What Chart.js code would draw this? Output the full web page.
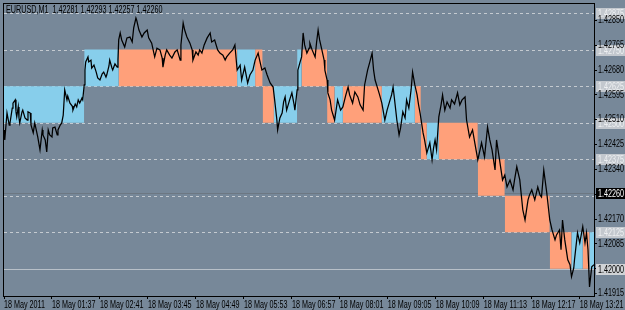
<!DOCTYPE html>
<html><head><meta charset="utf-8">
<script src="https://cdn.jsdelivr.net/npm/chart.js@4/dist/chart.umd.min.js"></script>
<style>
html,body{margin:0;padding:0;background:#778899;overflow:hidden;}
#wrap{position:relative;width:625px;height:310px;box-sizing:border-box;}
canvas{display:block;}
</style>
</head><body><div id="wrap"><canvas id="c" width="625" height="310"></canvas></div>
<script>
// minutes since 00:33 (first bar) on 18 May 2011, EURUSD M1 close
const minutes = [0,1,4,7,8,11,12,15,16,17,19,20,21,24,25,28,31,32,35,36,39,41,43,45,48,51,52,55,57,59,61,64,65,68,71,72,75,77,79,81,84,85,88,91,92,95,97,99,101,104,105,107,108,109,112,113,116,117,120,123,125,128,131,133,136,137,140,141,144,145,148,151,152,153,155,157,161,164,168,171,173,176,177,180,184,187,191,193,197,201,204,208,211,212,215,217,221,224,228,231,235,236,239,241,244,248,251,252,256,259,261,264,267,271,275,277,281,285,288,292,295,297,301,305,308,311,315,317,321,325,328,332,335,339,341,344,348,351,355,359,361,364,365,368,371,373,375,377,381,384,387,388,391,392,395,397,399,401,404,407,408,411,415,417,419,421,424,427,428,431,432,435,437,441,444,445,449,452,456,459,461,465,468,472,475,479,481,485,488,491,493,495,499,501,504,508,511,515,517,519,521,524,527,529,532,535,537,540,543,545,548,551,553,555,559,561,564,568,571,573,575,577,580,583,585,588,591,595,597,601,605,608,611,615,617,621,625,628,632,635,637,641,645,648,651,655,657,661,665,668,671,675,679,681,684,688,692,695,699,701,704,708,712,715,717,720,724,728,731,735,737,741,743,745,748,752,755,757,760,761,765,768,772,775,777,779,781,784,787];
const prices = [1.42475,1.42441,1.42533,1.42492,1.42499,1.42550,1.42567,1.42578,1.42537,1.42520,1.42554,1.42516,1.42499,1.42537,1.42543,1.42516,1.42509,1.42537,1.42533,1.42492,1.42465,1.42499,1.42475,1.42451,1.42407,1.42475,1.42458,1.42441,1.42400,1.42475,1.42458,1.42451,1.42482,1.42485,1.42458,1.42475,1.42492,1.42499,1.42526,1.42612,1.42578,1.42591,1.42567,1.42557,1.42543,1.42564,1.42554,1.42578,1.42567,1.42584,1.42578,1.42629,1.42680,1.42708,1.42725,1.42708,1.42714,1.42687,1.42697,1.42673,1.42653,1.42646,1.42667,1.42673,1.42656,1.42663,1.42694,1.42714,1.42687,1.42680,1.42701,1.42690,1.42714,1.42783,1.42807,1.42783,1.42759,1.42790,1.42793,1.42776,1.42824,1.42858,1.42851,1.42817,1.42793,1.42807,1.42817,1.42790,1.42772,1.42725,1.42755,1.42749,1.42721,1.42690,1.42731,1.42749,1.42731,1.42721,1.42742,1.42749,1.42714,1.42766,1.42841,1.42817,1.42793,1.42772,1.42749,1.42714,1.42742,1.42731,1.42749,1.42738,1.42766,1.42790,1.42807,1.42776,1.42783,1.42749,1.42738,1.42731,1.42714,1.42725,1.42738,1.42749,1.42766,1.42680,1.42697,1.42646,1.42690,1.42636,1.42663,1.42680,1.42714,1.42738,1.42714,1.42680,1.42687,1.42663,1.42636,1.42622,1.42578,1.42509,1.42475,1.42516,1.42533,1.42571,1.42588,1.42543,1.42578,1.42602,1.42561,1.42543,1.42612,1.42680,1.42708,1.42725,1.42807,1.42766,1.42738,1.42755,1.42772,1.42749,1.42725,1.42776,1.42817,1.42783,1.42749,1.42714,1.42680,1.42646,1.42602,1.42578,1.42543,1.42509,1.42561,1.42578,1.42543,1.42554,1.42595,1.42622,1.42595,1.42567,1.42605,1.42588,1.42561,1.42543,1.42629,1.42680,1.42708,1.42738,1.42680,1.42646,1.42612,1.42595,1.42567,1.42509,1.42543,1.42578,1.42595,1.42622,1.42578,1.42509,1.42458,1.42482,1.42537,1.42516,1.42578,1.42550,1.42612,1.42673,1.42629,1.42595,1.42561,1.42533,1.42465,1.42441,1.42396,1.42431,1.42373,1.42414,1.42441,1.42407,1.42520,1.42561,1.42595,1.42543,1.42571,1.42550,1.42578,1.42564,1.42602,1.42561,1.42578,1.42588,1.42509,1.42451,1.42475,1.42431,1.42373,1.42407,1.42431,1.42383,1.42485,1.42441,1.42407,1.42338,1.42441,1.42373,1.42304,1.42321,1.42280,1.42304,1.42270,1.42304,1.42349,1.42304,1.42202,1.42167,1.42236,1.42253,1.42270,1.42236,1.42280,1.42253,1.42246,1.42338,1.42260,1.42167,1.42133,1.42099,1.42116,1.42133,1.42065,1.42167,1.42099,1.42031,1.42014,1.41973,1.42003,1.42031,1.42123,1.42089,1.42144,1.42089,1.42123,1.42065,1.41938,1.42007,1.42014];

// box (brick) ranges
const boxStart = [0,107,153,311,335,345,360,391,397,431,441,452,504,548,556,564,580,632,668,728,757,772,781];
const boxEnd   = [107,153,311,335,345,360,391,397,431,441,452,504,548,556,564,580,632,668,728,757,772,781,787];
const boxLow   = [1.42500,1.42625,1.42625,1.42625,1.42625,1.42500,1.42500,1.42625,1.42625,1.42500,1.42500,1.42500,1.42500,1.42500,1.42375,1.42375,1.42375,1.42250,1.42125,1.42000,1.42000,1.42000,1.42000];
const boxBlue  = [1,1,0,1,0,0,1,1,0,0,1,0,1,0,0,1,0,0,0,0,1,0,1];
const boxSize = 0.00125;

const levelLines = [1.42875,1.42750,1.42625,1.42500,1.42375,1.42250,1.42125];
const levelTags  = [1.42875,1.42750,1.42625,1.42500,1.42375,1.42125];
const markLevel = 1.42000;
const bidLevel = 1.42260;
const yTicks = [1.42850,1.42765,1.42680,1.42595,1.42510,1.42425,1.42340,1.42255,1.42170,1.42085,1.42000,1.41915];
const xTickMinutes = [0,64,128,192,256,320,384,448,512,576,640,704,768];
const xTickLabels = ['18 May 2011','18 May 01:37','18 May 02:41','18 May 03:45','18 May 04:49','18 May 05:53','18 May 06:57','18 May 08:01','18 May 09:05','18 May 10:09','18 May 11:13','18 May 12:17','18 May 13:21'];
const titleText = 'EURUSD,M1  1.42281 1.42293 1.42257 1.42260';

// MetaTrader's small Tahoma text is narrower than the installed fonts: squeeze glyphs horizontally
const TEXT_SQUEEZE = 0.72;
(function () {
  const proto = CanvasRenderingContext2D.prototype;
  const orig = proto.fillText;
  proto.fillText = function (t, x, y, mw) {
    const w = this.measureText(String(t)).width * TEXT_SQUEEZE;
    return orig.call(this, t, x, y, mw !== undefined ? Math.min(mw, w) : w);
  };
})();

const FONT = "'Liberation Sans',Arial,sans-serif";
const FSIZE = 10;
const BLUE = '#87CEEB', SALMON = '#FFA07A';

const datasets = [{
  type: 'line',
  data: minutes.map((m, i) => ({x: m, y: prices[i]})),
  borderColor: '#000000',
  borderWidth: 1.25,
  pointRadius: 0,
  tension: 0,
  fill: false
}];
boxStart.forEach((s, i) => {
  datasets.push({
    type: 'line',
    data: [{x: s, y: boxLow[i] + boxSize}, {x: boxEnd[i], y: boxLow[i] + boxSize}],
    borderColor: 'rgba(0,0,0,0)',
    borderWidth: 0,
    pointRadius: 0,
    backgroundColor: boxBlue[i] ? BLUE : SALMON,
    fill: {value: boxLow[i]}
  });
});

function tag(ctx, yPix, text, bg, fg) {
  ctx.fillStyle = bg;
  ctx.fillRect(596, Math.round(yPix) - 5, 29, 11);
  ctx.fillStyle = fg;
  ctx.font = FSIZE + 'px ' + FONT;
  ctx.textAlign = 'left';
  ctx.textBaseline = 'middle';
  ctx.fillText(text, 598, Math.round(yPix) + 1);
}

const overlay = {
  id: 'overlay',
  beforeDraw(chart) {
    const ctx = chart.ctx, y = chart.scales.y;
    ctx.save();
    levelTags.forEach(v => tag(ctx, y.getPixelForValue(v), v.toFixed(5), '#c3c8ce', '#eef0f2'));
    ctx.restore();
  },
  beforeDatasetsDraw(chart) {
    const ctx = chart.ctx, y = chart.scales.y, a = chart.chartArea;
    ctx.save();
    ctx.beginPath(); ctx.rect(a.left, a.top, a.right - a.left, a.bottom - a.top); ctx.clip();
    ctx.lineWidth = 1;
    ctx.strokeStyle = '#c4cad0';
    ctx.setLineDash([3, 3]);
    levelLines.forEach(v => {
      const p = Math.round(y.getPixelForValue(v)) + 0.5;
      ctx.beginPath(); ctx.moveTo(a.left, p); ctx.lineTo(a.right, p); ctx.stroke();
    });
    ctx.setLineDash([]);
    let p = Math.round(y.getPixelForValue(markLevel)) + 0.5;
    ctx.strokeStyle = '#b8c0c8';
    ctx.beginPath(); ctx.moveTo(a.left, p); ctx.lineTo(a.right, p); ctx.stroke();
    p = Math.round(y.getPixelForValue(bidLevel)) + 0.5;
    ctx.strokeStyle = 'rgba(90,90,90,0.35)';
    ctx.beginPath(); ctx.moveTo(a.left, p); ctx.lineTo(a.right, p); ctx.stroke();
    ctx.restore();
  },
  afterDraw(chart) {
    const ctx = chart.ctx, y = chart.scales.y, a = chart.chartArea;
    ctx.save();
    ctx.strokeStyle = '#000';
    ctx.lineWidth = 1;
    ctx.strokeRect(a.left - 0.5, a.top - 0.5, a.right - a.left + 1, a.bottom - a.top + 1);
    tag(ctx, y.getPixelForValue(bidLevel), bidLevel.toFixed(5), '#000000', '#ffffff');
    tag(ctx, y.getPixelForValue(markLevel), markLevel.toFixed(5), '#d0d3d6', '#000000');
    ctx.fillStyle = '#000';
    ctx.font = FSIZE + 'px ' + FONT;
    ctx.textAlign = 'left';
    ctx.textBaseline = 'middle';
    ctx.fillText(titleText, 6, 10);
    ctx.restore();
  }
};

new Chart(document.getElementById('c'), {
  type: 'line',
  data: {datasets},
  options: {
    responsive: false,
    animation: false,
    devicePixelRatio: 1,
    events: [],
    layout: {padding: {left: 4, top: 4, right: 0, bottom: 0}},
    plugins: {legend: {display: false}, tooltip: {enabled: false}, title: {display: false}},
    scales: {
      x: {
        type: 'linear', position: 'bottom', min: 0, max: 787,
        afterBuildTicks(s) { s.ticks = xTickMinutes.map(v => ({value: v})); },
        afterFit(s) { s.height = 14; s.paddingLeft = 0; s.paddingRight = 0; },
        grid: {display: true, drawOnChartArea: false, drawTicks: true, tickLength: 3, color: '#000'},
        border: {display: true, color: '#000', width: 1},
        ticks: {autoSkip: false, maxRotation: 0, minRotation: 0, align: 'start', padding: 0,
          color: '#000', font: {size: FSIZE, family: FONT},
          callback: (v, i) => xTickLabels[i]}
      },
      y: {
        type: 'linear', position: 'right', min: 1.41907, max: 1.42906,
        afterBuildTicks(s) { s.ticks = yTicks.map(v => ({value: v})); },
        afterFit(s) { s.width = 31; s.paddingTop = 0; s.paddingBottom = 0; },
        grid: {display: true, drawOnChartArea: false, drawTicks: true, tickLength: 3, color: '#000'},
        border: {display: true, color: '#000', width: 1},
        ticks: {autoSkip: false, padding: 1, color: '#000', font: {size: FSIZE, family: FONT},
          callback: v => Number(v).toFixed(5)}
      }
    }
  },
  plugins: [overlay]
});
</script>
</body></html>
